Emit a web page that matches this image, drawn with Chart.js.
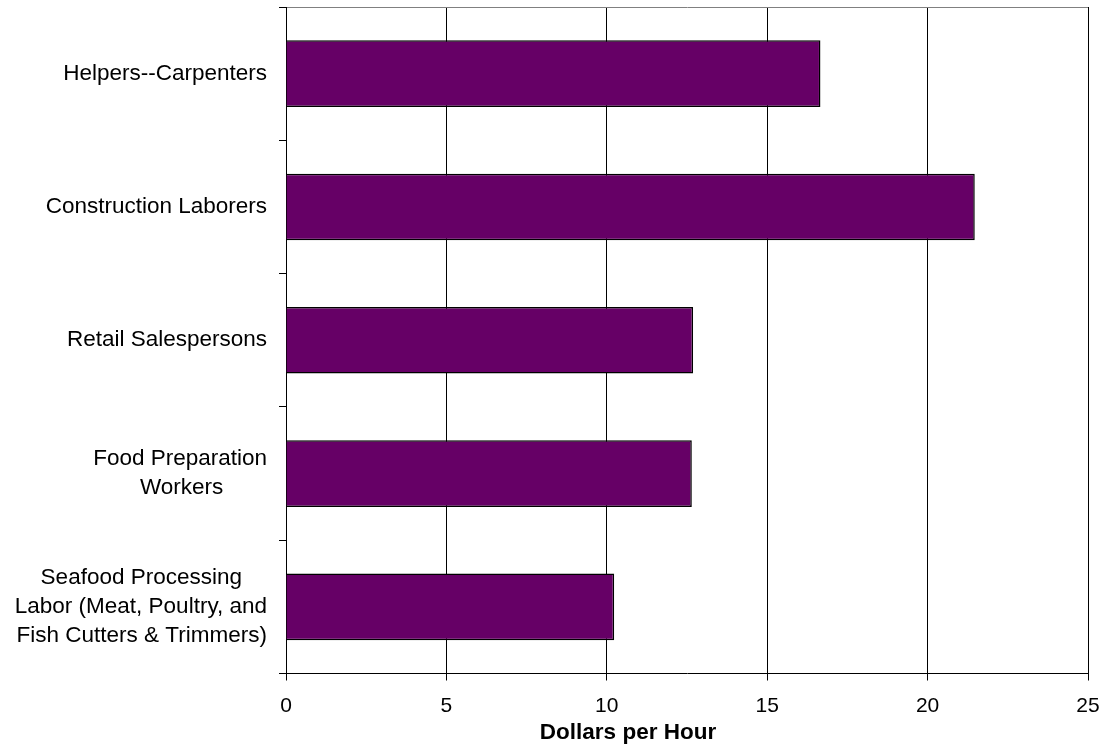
<!DOCTYPE html>
<html lang="en">
<head>
  <meta charset="UTF-8">
  <title>Dollars per Hour</title>
  <script src="https://cdn.jsdelivr.net/npm/chart.js@4.4.0/dist/chart.umd.min.js"></script>
  <style>
    body { margin: 0; background: #fff; }
  </style>
</head>
<body>
  <canvas id="chart" width="1102" height="744"></canvas>

  <script>
    // categories (top to bottom) and wages
    const occupations = [
      ['Helpers--Carpenters'],
      ['Construction Laborers'],
      ['Retail Salespersons'],
      ['Food Preparation', 'Workers'],
      ['Seafood Processing', 'Labor (Meat, Poultry, and', 'Fish Cutters & Trimmers)']
    ];
    const wages = [16.66, 21.47, 12.69, 12.65, 10.23];
    const xTicks = [0, 5, 10, 15, 20, 25];

    const family = '"Liberation Sans", Arial, sans-serif';
    const labelFont = '22.5px ' + family;

    // lines of one label are centred on each other, the block sits right aligned
    const measure = document.createElement('canvas').getContext('2d');
    measure.font = labelFont;
    const spaceW = measure.measureText(' ').width;
    function padLines(lines) {
      const widths = lines.map(l => measure.measureText(l).width);
      const widest = Math.max(...widths);
      return lines.map((l, i) => l + ' '.repeat(Math.round((widest - widths[i]) / 2 / spaceW)));
    }

    function noPadding(s) {
      s.paddingTop = 0; s.paddingBottom = 0; s.paddingLeft = 0; s.paddingRight = 0;
    }

    // let the category labels use the room left of the y axis
    const widenLabels = {
      id: 'widenLabels',
      afterLayout(chart) { chart.scales.y.left = 0; }
    };

    new Chart(document.getElementById('chart'), {
      type: 'bar',
      data: {
        labels: occupations,
        datasets: [{
          data: wages,
          backgroundColor: '#660066',
          borderColor: '#000',
          borderWidth: 1.5,
          barPercentage: 0.5,
          categoryPercentage: 1
        }]
      },
      plugins: [widenLabels],
      options: {
        indexAxis: 'y',
        responsive: false,
        animation: false,
        layout: { padding: { left: 168, right: 14, top: 7, bottom: 0 } },
        plugins: {
          legend: { display: false },
          tooltip: { enabled: false },
          title: {
            display: true,
            position: 'bottom',
            text: 'Dollars per Hour',
            color: '#000',
            padding: 0,
            font: { family: family, size: 22.5, weight: 'bold', lineHeight: 1 }
          }
        },
        scales: {
          x: {
            min: 0,
            max: 25,
            afterBuildTicks: s => { s.ticks = xTicks.map(v => ({ value: v })); },
            afterFit: s => { s.height = 48; noPadding(s); },
            border: { color: '#000', width: 1 },
            grid: { color: '#000', lineWidth: 1, tickLength: 7, tickColor: '#000' },
            ticks: {
              color: '#000',
              padding: 13,
              maxRotation: 0,
              font: { family: family, size: 21 }
            }
          },
          y: {
            afterFit: s => { s.width = 118; noPadding(s); },
            border: { color: '#000', width: 1 },
            grid: {
              offset: true,
              tickLength: 7,
              tickColor: '#000',
              color: c => c.index === 0 ? '#808080' : 'rgba(0,0,0,0)'
            },
            ticks: {
              color: '#000',
              padding: 12,
              font: { family: family, size: 22.5, lineHeight: 1.27 },
              callback: function (v, i) { return padLines(occupations[i]); }
            }
          }
        }
      }
    });
  </script>
</body>
</html>
